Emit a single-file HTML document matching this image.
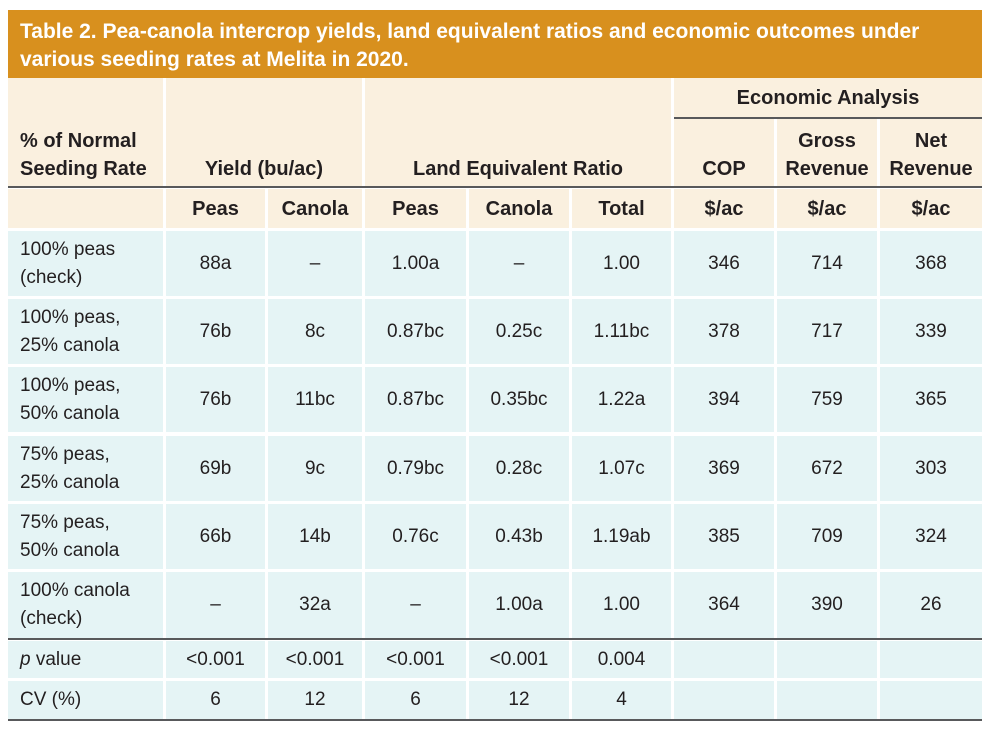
<!DOCTYPE html>
<html><head><meta charset="utf-8"><style>
body{margin:0;width:990px;height:732px;background:#fff;position:relative;overflow:hidden;font-family:"Liberation Sans",sans-serif;color:#231f20}
.c{position:absolute;display:flex;align-items:center;justify-content:center;text-align:center;font-size:19px;line-height:28px;box-sizing:border-box}
.c span{display:block}
.l{justify-content:flex-start;text-align:left;padding-left:12px}
.b{font-weight:bold;font-size:20px}
.e{align-items:flex-end;padding-bottom:4px}
.ln{position:absolute;background:#58595b}
</style></head><body>
<div style="position:absolute;left:8px;top:10px;width:974px;height:68px;background:#d8901e;color:#fff;font-weight:bold;font-size:21px;line-height:28px;padding:8px 0 0 12px;box-sizing:border-box">Table 2. Pea-canola intercrop yields, land equivalent ratios and economic outcomes under<br>various seeding rates at Melita in 2020.</div>
<div id="t"></div>
<script>
var t=document.getElementById('t'),h='';
var C=[[8,163],[166,265],[268,362],[365,466],[469,569],[572,671],[674,774],[777,877],[880,982]];
function cell(x1,x2,y1,y2,bg,txt,cls){h+='<div class="c '+(cls||'')+'" style="left:'+x1+'px;width:'+(x2-x1)+'px;top:'+y1+'px;height:'+(y2-y1)+'px;background:'+bg+'"><span>'+txt+'</span></div>';}
var cr='#faf0df',cy='#e5f4f5';
cell(8,163,78,187,cr,'% of Normal<br>Seeding Rate','b l e');
cell(166,362,78,187,cr,'Yield (bu/ac)','b e');
cell(365,671,78,187,cr,'Land Equivalent Ratio','b e');
cell(674,982,78,118,cr,'Economic Analysis','b');
cell(674,774,119,187,cr,'COP','b e');
cell(777,877,119,187,cr,'Gross<br>Revenue','b e');
cell(880,982,119,187,cr,'Net<br>Revenue','b e');
h+='<div class="ln" style="left:674px;width:308px;top:117px;height:2px"></div>';
var sub=['','Peas','Canola','Peas','Canola','Total','$/ac','$/ac','$/ac'];
for(var i=0;i<9;i++)cell(C[i][0],C[i][1],189,228,cr,sub[i],'b'+(i==0?' l':''));
h+='<div class="ln" style="left:8px;width:974px;top:186px;height:2px"></div>';
var R=[['100% peas<br>(check)','88a','–','1.00a','–','1.00','346','714','368'],
['100% peas,<br>25% canola','76b','8c','0.87bc','0.25c','1.11bc','378','717','339'],
['100% peas,<br>50% canola','76b','11bc','0.87bc','0.35bc','1.22a','394','759','365'],
['75% peas,<br>25% canola','69b','9c','0.79bc','0.28c','1.07c','369','672','303'],
['75% peas,<br>50% canola','66b','14b','0.76c','0.43b','1.19ab','385','709','324'],
['100% canola<br>(check)','–','32a','–','1.00a','1.00','364','390','26']];
var Y=[231,299,367,436,504,572];
for(var r=0;r<6;r++)for(var i=0;i<9;i++)cell(C[i][0],C[i][1],Y[r],r==5?638:Y[r]+65,cy,R[r][i],i==0?'l':'');
var P=[['<i>p</i> value','&lt;0.001','&lt;0.001','&lt;0.001','&lt;0.001','0.004','','',''],['CV (%)','6','12','6','12','4','','','']];
for(var i=0;i<9;i++){cell(C[i][0],C[i][1],641,678,cy,P[0][i],i==0?'l':'');cell(C[i][0],C[i][1],681,719,cy,P[1][i],i==0?'l':'');}
h+='<div class="ln" style="left:8px;width:974px;top:638px;height:2px"></div>';
h+='<div class="ln" style="left:8px;width:974px;top:719px;height:2px"></div>';
t.innerHTML=h;
</script>
</body></html>
